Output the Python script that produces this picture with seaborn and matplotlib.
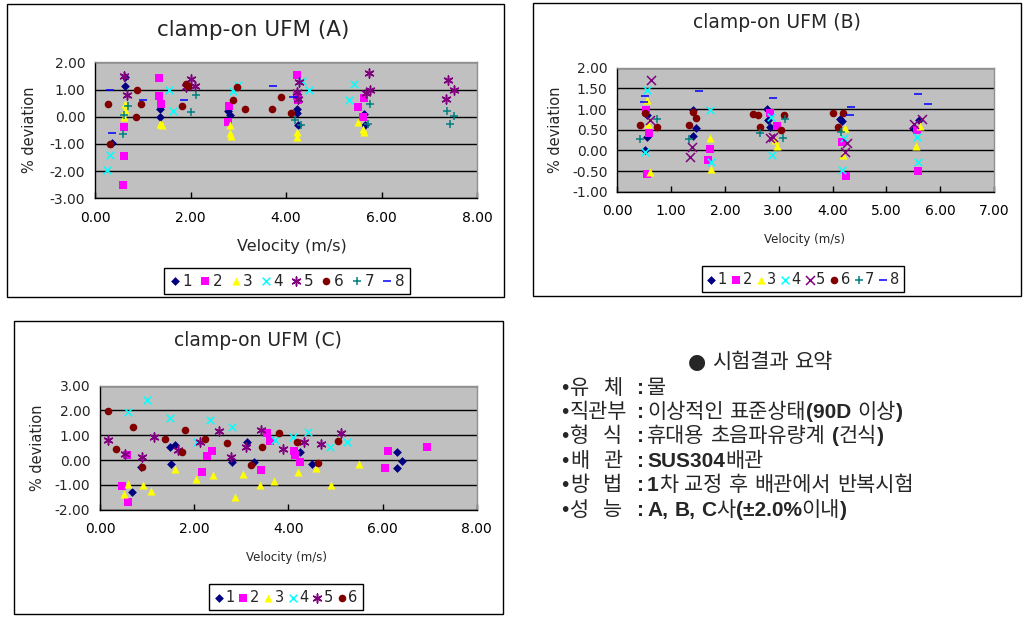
import numpy as np
import pandas as pd
import matplotlib
matplotlib.use("Agg")
import matplotlib.pyplot as plt
from matplotlib.patches import Rectangle
from matplotlib.ticker import MultipleLocator, FormatStrFormatter
import seaborn as sns

sns.set_style("ticks")
plt.rcParams["font.family"] = ["DejaVu Sans"]

W, H = 1024, 621

# ---------------- data: chart A ----------------
a1_x = [0.35, 0.62, 0.63, 1.36, 1.37, 2.78, 2.82, 4.23, 4.24, 4.25, 5.63, 5.65]
a1_y = [-0.95, 1.45, 1.13, 0.27, 0.00, 0.22, 0.08, 0.30, 0.12, -0.30, 0.10, -0.30]
a2_x = [0.60, 0.60, 0.59, 1.35, 1.35, 1.39, 2.81, 2.79, 4.24, 4.24, 4.25, 5.51, 5.63, 5.61]
a2_y = [-0.38, -1.45, -2.50, 1.42, 0.77, 0.47, 0.40, -0.18, 1.53, 0.75, 0.60, 0.35, 0.70, 0.00]
a3_x = [0.62, 0.63, 0.61, 1.37, 1.40, 2.82, 2.82, 2.85, 4.23, 4.24, 5.50, 5.62, 5.64]
a3_y = [0.45, 0.25, 0.00, -0.25, -0.30, -0.30, -0.60, -0.70, -0.55, -0.75, -0.20, -0.45, -0.55]
a4_x = [0.26, 0.32, 1.55, 1.63, 2.90, 3.00, 4.33, 4.48, 5.32, 5.42]
a4_y = [-1.95, -1.40, 1.00, 0.20, 0.95, 1.15, 1.30, 0.98, 0.60, 1.20]
a5_x = [0.61, 0.68, 1.90, 2.00, 2.09, 4.22, 4.28, 4.25, 5.74, 5.68, 5.76, 7.39, 7.52, 7.35]
a5_y = [1.50, 0.80, 1.08, 1.40, 1.13, 0.92, 1.26, 0.65, 1.60, 0.86, 0.98, 1.35, 0.98, 0.65]
a6_x = [0.28, 0.32, 0.87, 0.86, 0.96, 1.83, 1.90, 1.95, 2.90, 2.98, 3.14, 3.71, 3.89, 4.10]
a6_y = [0.47, -1.00, 0.98, 0.00, 0.47, 0.40, 1.20, 1.13, 0.60, 1.10, 0.30, 0.30, 0.74, 0.15]
a7_x = [0.59, 0.70, 0.60, 2.11, 2.00, 4.18, 4.32, 5.75, 5.72, 7.38, 7.43, 7.52]
a7_y = [-0.62, 0.38, 0.08, 0.78, 0.18, -0.12, -0.32, 0.47, -0.25, 0.20, -0.27, 0.03]
a8_x = [0.31, 0.35, 1.00, 1.87, 3.73, 4.15]
a8_y = [1.00, -0.60, 0.60, 0.63, 1.12, 0.73]

# ---------------- data: chart B ----------------
b1_x = [0.51, 0.56, 0.55, 1.41, 1.41, 1.47, 2.79, 2.80, 2.84, 4.14, 4.18, 5.49, 5.61]
b1_y = [0.02, 0.33, 0.85, 0.35, 0.97, 0.55, 1.00, 0.73, 0.57, 0.77, 0.70, 0.53, 0.73]
b2_x = [0.55, 0.53, 0.58, 1.72, 1.69, 2.84, 2.96, 4.17, 4.25, 5.59, 5.56]
b2_y = [-0.57, 0.98, 0.43, 0.03, -0.23, 0.90, 0.60, 0.20, -0.62, -0.50, 0.50]
b3_x = [0.60, 0.55, 0.57, 1.72, 1.75, 2.93, 2.96, 4.23, 4.19, 5.55, 5.63]
b3_y = [-0.53, 1.23, 0.65, 0.30, -0.45, 0.25, 0.10, 0.53, -0.12, 0.10, 0.60]
b4_x = [0.56, 0.51, 1.72, 1.75, 2.87, 2.85, 4.17, 4.22, 5.59, 5.56]
b4_y = [1.45, -0.05, 0.98, -0.27, -0.12, 0.80, -0.48, 0.30, -0.28, 0.33]
b5_x = [0.62, 0.61, 1.38, 1.36, 2.84, 2.90, 4.26, 4.23, 5.51, 5.66]
b5_y = [1.70, 0.73, 0.08, -0.15, 0.30, 0.33, 0.17, -0.05, 0.65, 0.77]
b6_x = [0.42, 0.51, 0.73, 1.34, 1.41, 1.47, 2.53, 2.62, 2.65, 3.05, 3.10, 4.01, 4.20, 4.11]
b6_y = [0.62, 0.90, 0.57, 0.62, 0.93, 0.78, 0.88, 0.85, 0.57, 0.50, 0.85, 0.90, 0.90, 0.57]
b7_x = [0.42, 0.73, 1.34, 2.65, 3.07, 3.12, 4.15]
b7_y = [0.27, 0.77, 0.27, 0.41, 0.30, 0.77, 0.45]
b8_x = [0.50, 0.52, 1.51, 2.89, 4.34, 4.33, 5.58, 5.77]
b8_y = [1.18, 1.32, 1.44, 1.26, 1.04, 0.85, 1.36, 1.13]

# ---------------- data: chart C ----------------
c1_x = [0.69, 0.88, 1.49, 1.59, 1.51, 2.80, 3.12, 3.26, 4.25, 4.50, 6.30, 6.41, 6.30]
c1_y = [-1.30, -0.26, 0.51, 0.59, -0.15, -0.08, 0.71, -0.08, 0.31, -0.15, 0.31, -0.03, -0.32]
c2_x = [0.46, 0.60, 0.57, 2.16, 2.28, 2.37, 3.41, 3.54, 3.60, 4.11, 4.14, 4.25, 6.05, 6.12, 6.94]
c2_y = [-1.06, -1.70, 0.21, -0.46, 0.17, 0.38, -0.39, 1.09, 0.78, 0.38, 0.19, -0.09, -0.32, 0.35, 0.51]
c3_x = [0.50, 0.60, 0.91, 1.08, 1.59, 2.04, 2.41, 2.87, 3.04, 3.40, 3.70, 4.21, 4.59, 4.91, 5.49]
c3_y = [-1.37, -0.97, -1.02, -1.26, -0.35, -0.77, -0.59, -1.47, -0.56, -1.00, -0.86, -0.46, -0.32, -1.02, -0.16]
c4_x = [0.60, 0.99, 1.49, 2.05, 2.33, 2.80, 3.72, 4.10, 4.42, 4.88, 5.25]
c4_y = [1.95, 2.42, 1.68, 0.74, 1.62, 1.35, 0.81, 0.95, 1.15, 0.54, 0.74]
c5_x = [0.18, 0.54, 0.90, 1.15, 1.65, 2.12, 2.53, 2.78, 3.11, 3.42, 3.88, 4.33, 4.69, 5.11]
c5_y = [0.81, 0.25, 0.14, 0.94, 0.40, 0.74, 1.19, 0.14, 0.54, 1.21, 0.45, 0.74, 0.65, 1.08]
c6_x = [0.16, 0.33, 0.71, 0.90, 1.38, 1.75, 1.81, 2.22, 2.70, 3.21, 3.45, 3.80, 4.18, 4.64, 5.06]
c6_y = [1.99, 0.43, 1.32, -0.29, 0.84, 0.34, 1.21, 0.84, 0.70, -0.20, 0.54, 1.10, 0.74, -0.13, 0.78]

series_ids = ["1", "2", "3", "4", "5", "6", "7", "8"]

# ---------------- summary text ----------------
summary_title = "● 시험결과 요약"
summary_labels = ["유 체", "직관부", "형 식", "배 관", "방 법", "성 능"]
summary_values = ["물", "이상적인 표준상태(90D 이상)", "휴대용 초음파유량계 (건식)",
                  "SUS304배관", "1차 교정 후 배관에서 반복시험", "A, B, C사(±2.0%이내)"]

# ---------------- styles ----------------
colors = {"1": "#000080", "2": "#FF00FF", "3": "#FFFF00", "4": "#00FFFF",
          "5": "#800080", "6": "#800000", "7": "#008080", "8": "#0000FF"}
markers = {"1": "D", "2": "s", "3": "^", "4": "x", "5": (6, 2, 0),
           "6": "o", "7": "+", "8": "_"}
sizes = {"1": 20, "2": 30, "3": 34, "4": 30, "5": 42, "6": 30, "7": 40, "8": 30}
line_markers = {"4", "5", "7", "8"}


def build_frame(xs, ys, ids):
    rows = []
    for sid, xv, yv in zip(ids, xs, ys):
        rows.append(pd.DataFrame({"series": sid, "velocity": xv, "deviation": yv}))
    return pd.concat(rows, ignore_index=True)


df_a = build_frame([a1_x, a2_x, a3_x, a4_x, a5_x, a6_x, a7_x, a8_x],
                   [a1_y, a2_y, a3_y, a4_y, a5_y, a6_y, a7_y, a8_y], series_ids)
df_b = build_frame([b1_x, b2_x, b3_x, b4_x, b5_x, b6_x, b7_x, b8_x],
                   [b1_y, b2_y, b3_y, b4_y, b5_y, b6_y, b7_y, b8_y], series_ids)
df_c = build_frame([c1_x, c2_x, c3_x, c4_x, c5_x, c6_x],
                   [c1_y, c2_y, c3_y, c4_y, c5_y, c6_y], series_ids[:6])

fig = plt.figure(figsize=(W / 100, H / 100), dpi=100)
fig.patch.set_facecolor("white")


def px_rect(x0, y0, x1, y1):
    return [x0 / W, 1 - y1 / H, (x1 - x0) / W, (y1 - y0) / H]


def chart(df, box, plot, xlim, xstep, ylim, ystep, title, title_xy, title_size,
          xlab_xy, ylab_xy, xlab_size, legend_c, legend_kw, marker_over=None):
    bx0, by0, bx1, by1 = box
    fig.add_artist(Rectangle((bx0 / W, 1 - by1 / H), (bx1 - bx0) / W, (by1 - by0) / H,
                             transform=fig.transFigure, facecolor="white",
                             edgecolor="black", lw=1.0, zorder=-5))
    ax = fig.add_axes(px_rect(*plot))
    ax.set_facecolor("#C0C0C0")
    ids = list(dict.fromkeys(df["series"]))
    for sid in ids:
        mk = markers[sid]
        if marker_over and sid in marker_over:
            mk = marker_over[sid]
        sub = df[df["series"] == sid]
        if sid in line_markers:
            sns.scatterplot(data=sub, x="velocity", y="deviation", ax=ax, marker=mk,
                            color=colors[sid], s=sizes[sid], linewidth=1.1,
                            label=sid, zorder=3)
        else:
            sns.scatterplot(data=sub, x="velocity", y="deviation", ax=ax, marker=mk,
                            color=colors[sid], s=sizes[sid], linewidth=0,
                            edgecolor=colors[sid], label=sid, zorder=3)
    ax.set_xlim(*xlim)
    ax.set_ylim(*ylim)
    ax.xaxis.set_major_locator(MultipleLocator(xstep))
    ax.yaxis.set_major_locator(MultipleLocator(ystep))
    ax.xaxis.set_major_formatter(FormatStrFormatter("%.2f"))
    ax.yaxis.set_major_formatter(FormatStrFormatter("%.2f"))
    ax.yaxis.grid(True, color="black", lw=1.0)
    ax.set_axisbelow(True)
    ax.tick_params(axis="x", direction="in", length=4, width=1, pad=9,
                   labelsize=10, colors="black")
    ax.tick_params(axis="y", direction="in", length=0, pad=7, labelsize=10)
    for s in ["left", "bottom"]:
        ax.spines[s].set_color("black")
        ax.spines[s].set_linewidth(1.0)
    for s in ["top", "right"]:
        ax.spines[s].set_color("#909090")
        ax.spines[s].set_linewidth(1.0)
    px0, py0, px1, py1 = plot
    pw, ph = px1 - px0, py1 - py0
    ax.set_title(title, fontsize=title_size, va="center", pad=0,
                 x=(title_xy[0] - px0) / pw, y=(py1 - title_xy[1]) / ph)
    ax.set_xlabel("Velocity (m/s)", fontsize=xlab_size)
    ax.xaxis.label.set_va("center")
    ax.xaxis.set_label_coords((xlab_xy[0] - px0) / pw, (py1 - xlab_xy[1]) / ph)
    ax.set_ylabel("% deviation", fontsize=10.5)
    ax.yaxis.label.set_va("center")
    ax.yaxis.set_label_coords((ylab_xy[0] - px0) / pw, (py1 - ylab_xy[1]) / ph)
    handles, labels = ax.get_legend_handles_labels()
    leg = ax.legend(handles, labels, ncol=len(labels), loc="center",
                    bbox_to_anchor=(legend_c[0] / W, 1 - legend_c[1] / H),
                    bbox_transform=fig.transFigure, frameon=True, fancybox=False,
                    edgecolor="black", framealpha=1, borderpad=0.35,
                    handletextpad=0.15, **legend_kw)
    leg.get_frame().set_linewidth(1.0)
    return ax


chart(df_a, (7, 4, 504, 297), (95, 62.3, 477, 198.3), (0, 8), 2, (-3, 2), 1,
      "clamp-on UFM (A)", (253, 30), 15.5, (292, 247), (30, 130), 11.5, (287, 281),
      dict(fontsize=11, handlelength=0.7, columnspacing=0.5))
chart(df_b, (533, 3, 1021, 296), (617.3, 67.7, 994, 191.7), (0, 7), 1, (-1, 2), 0.5,
      "clamp-on UFM (B)", (777, 23), 13.5, (805, 240), (555, 130), 8.5, (803, 279),
      dict(fontsize=10.5, handlelength=0.6, columnspacing=0.3),
      marker_over={"5": "x"})
chart(df_c, (14, 321, 503, 614), (100, 385.7, 476.7, 509.7), (0, 8), 2, (-2, 3), 1,
      "clamp-on UFM (C)", (258, 341), 13.5, (287, 558), (37, 448), 8.5, (286, 597),
      dict(fontsize=10.5, handlelength=0.6, columnspacing=0.3))

# ---------------- summary text block ----------------
renderer = fig.canvas.get_renderer()
FS = 15


def is_hangul(ch):
    return "\uac00" <= ch <= "\ud7a3"


def draw_runs(x, y, text, size=FS):
    runs = []
    for ch in text:
        if ch == " ":
            kind = "sp"
        elif is_hangul(ch):
            kind = "h"
        elif ch == "●":
            kind = "c"
        else:
            kind = "l"
        if runs and runs[-1][0] == kind:
            runs[-1][1] += ch
        else:
            runs.append([kind, ch])
    for kind, s in runs:
        if kind == "sp":
            x += len(s) * size * 0.3 * 100 / 72
            continue
        if kind == "h":
            kw = dict(family=["Noto Sans CJK KR", "DejaVu Sans"], weight="normal")
        elif kind == "c":
            kw = dict(family=["DejaVu Sans"], weight="normal")
        else:
            kw = dict(family=["Liberation Sans", "DejaVu Sans"], weight="bold")
        t = fig.text(x / W, 1 - y / H, s, fontsize=size, va="baseline", ha="left", **kw)
        x += t.get_window_extent(renderer).width
    return x


draw_runs(688, 368, summary_title, size=15)
line_y = [387, 411, 435, 460, 484, 509]
for lab, val, yc in zip(summary_labels, summary_values, line_y):
    yb = yc + 7
    fig.text(561 / W, 1 - yb / H, "•", fontsize=FS, va="baseline", ha="left",
             family=["Liberation Sans"])
    if " " in lab:
        c1, c2 = lab.split(" ")
        draw_runs(570, yb, c1)
        draw_runs(603, yb, c2)
    else:
        draw_runs(570, yb, lab)
    fig.text(637 / W, 1 - yb / H, ":", fontsize=FS, va="baseline", ha="left",
             family=["Liberation Sans"], weight="bold")
    draw_runs(647, yb, val)

fig.savefig("out.png", dpi=100, facecolor="white")
